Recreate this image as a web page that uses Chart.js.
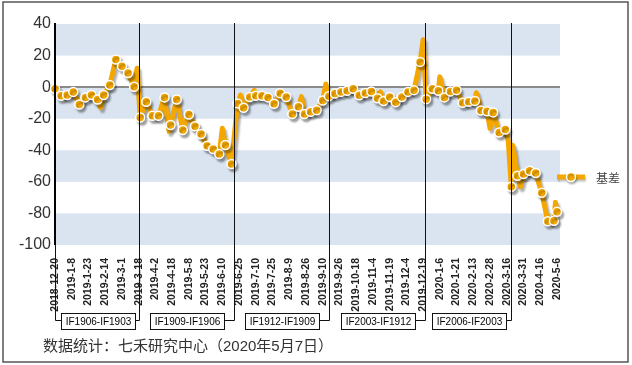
<!DOCTYPE html>
<html>
<head>
<meta charset="utf-8">
<script src="https://cdn.jsdelivr.net/npm/chart.js@4.4.1/dist/chart.umd.min.js"></script>
<style>
  body { margin: 0; background: #fff; }
  canvas { display: block; }
</style>
</head>
<body>
<canvas id="basisChart" width="632" height="365"></canvas>
<script>
// x tick labels, one every 11 trading days
const tickDates = ['2018-12-20', '2019-1-8', '2019-1-23', '2019-2-14', '2019-3-1', '2019-3-18',
  '2019-4-2', '2019-4-18', '2019-5-8', '2019-5-23', '2019-6-10', '2019-6-25', '2019-7-10',
  '2019-7-25', '2019-8-9', '2019-8-26', '2019-9-10', '2019-9-26', '2019-10-18', '2019-11-4',
  '2019-11-19', '2019-12-4', '2019-12-19', '2020-1-6', '2020-1-21', '2020-2-13', '2020-2-28',
  '2020-3-16', '2020-3-31', '2020-4-16', '2020-5-6'];

// trading day counted from 2018-12-20, and the basis read on that day
const tradingDay = [0, 4, 8, 12, 16, 20, 24, 28, 30, 32, 36, 40, 44, 48, 52, 54, 56,
  60, 64, 68, 72, 75, 76, 80, 84, 88, 92, 96, 100, 104, 108, 110, 112, 116,
  120, 122, 124, 128, 131, 132, 136, 140, 144, 148, 152, 156, 160, 162, 164, 168, 172, 176, 178,
  180, 184, 188, 192, 196, 200, 204, 208, 212, 214, 216, 220, 224, 228, 232, 236, 240, 242, 244,
  248, 252, 253, 256, 260, 264, 268, 272, 276, 277, 280, 284, 286, 288, 292, 296, 298,
  300, 301, 304, 306, 308, 312, 316, 320, 324, 328, 329, 330];
const basis = [-1, -5.5, -5, -3, -11, -6.5, -5, -7.8, -13, -5, 1.3, 17.5, 13.3, 9, 0.2, 12, -19.2,
  -9.3, -18.2, -18.2, -6.5, -28, -24, -7.8, -27.2, -17.3, -24.7, -29.7, -37.1, -39.2, -42.4, -26, -36.7, -48.7,
  -10.3, -5, -13, -6.3, -2, -5.5, -5.5, -6.5, -10.5, -3.8, -6.2, -17, -12.4, -6, -17, -15.6, -14.6, -8.5, 2,
  -5.7, -4, -3, -2.3, -1, -5.2, -3.7, -2.8, -7, -3, -8.8, -6.3, -9.5, -6.3, -3, -1.9, 16, 30, -7.6,
  -1, -2.3, 6.5, -6.5, -2.7, -1.9, -9.9, -9.2, -8.7, -3.5, -14.8, -15.3, -26, -16, -28.8, -26.8, -34,
  -63.1, -37, -56.1, -63, -55, -53, -54.4, -66.9, -85, -84.7, -73, -79];

// contract roll days and the spread that was in force before each roll
const rollDays = [55, 118, 180, 243, 300];
const contracts = ['IF1906-IF1903', 'IF1909-IF1906', 'IF1912-IF1909', 'IF2003-IF1912', 'IF2006-IF2003'];
const sourceNote = '数据统计：七禾研究中心（2020年5月7日）';

const ORANGE = '#f3a700';
const points = tradingDay.map((d, i) => ({ x: d, y: basis[i] }));

// white page, outer frame and the blue bands behind the plot
const bandsPlugin = {
  id: 'bands',
  beforeDraw(chart) {
    const { ctx, chartArea: a, scales: { y } } = chart;
    ctx.save();
    ctx.fillStyle = '#fff';
    ctx.fillRect(0, 0, chart.width, chart.height);
    ctx.strokeStyle = '#555';
    ctx.lineWidth = 1.5;
    ctx.strokeRect(3, 2, 625, 360);
    const vals = y.ticks.map(t => t.value).sort((p, q) => q - p);
    ctx.fillStyle = '#dae4f0';
    for (let i = 0; i < vals.length - 1; i += 2) {
      const top = y.getPixelForValue(vals[i]);
      const bot = y.getPixelForValue(vals[i + 1]);
      ctx.fillRect(a.left, top, a.right - a.left, bot - top);
    }
    ctx.restore();
  }
};

// grey drop shadow under the line and its markers
const shadowPlugin = {
  id: 'shadow',
  beforeDatasetsDraw(chart) {
    const c = chart.ctx;
    c.save();
    c.shadowColor = 'rgba(0,0,0,0.3)';
    c.shadowOffsetX = 2;
    c.shadowOffsetY = 3;
    c.shadowBlur = 2;
  },
  afterDatasetsDraw(chart) {
    chart.ctx.restore();
  }
};

// roll lines, contract boxes, legend and source note
const notesPlugin = {
  id: 'notes',
  afterDraw(chart) {
    const { ctx, chartArea: a, scales: { x } } = chart;
    const edges = [0, ...rollDays].map(d => Math.round(x.getPixelForValue(d)));
    const linkY = 320.5, boxH = 16;
    ctx.save();

    ctx.strokeStyle = '#000';
    ctx.lineWidth = 2;
    ctx.beginPath();
    ctx.moveTo(edges[0], a.top - 1);
    ctx.lineTo(edges[0], a.bottom);
    ctx.stroke();

    ctx.lineWidth = 1;
    ctx.strokeStyle = '#111';
    ctx.font = '10px "Liberation Sans", Arial, sans-serif';
    ctx.textAlign = 'center';
    ctx.textBaseline = 'middle';
    contracts.forEach((name, i) => {
      const L = edges[i] + 0.5, R = edges[i + 1] + 0.5;
      const w = Math.round(ctx.measureText(name).width) + 8;
      const bx = Math.round((L + R) / 2 - w / 2) + 0.5;
      const by = Math.round(linkY - boxH / 2) + 0.5;
      ctx.beginPath();
      ctx.moveTo(R, a.top - 1);
      ctx.lineTo(R, linkY);
      ctx.lineTo(bx + w, linkY);
      if (i === 0) {
        ctx.moveTo(L, a.bottom);
        ctx.lineTo(L, linkY);
        ctx.lineTo(bx, linkY);
      }
      ctx.stroke();
      ctx.fillStyle = '#fff';
      ctx.fillRect(bx, by, w, boxH);
      ctx.strokeRect(bx, by, w, boxH);
      ctx.fillStyle = '#000';
      ctx.fillText(name, bx + w / 2, by + boxH / 2 + 0.5);
    });

    // legend
    const lx = a.right - 3, ly = 177;
    ctx.shadowColor = 'rgba(0,0,0,0.25)';
    ctx.shadowOffsetX = 1;
    ctx.shadowOffsetY = 2;
    ctx.shadowBlur = 2;
    ctx.strokeStyle = ORANGE;
    ctx.lineWidth = 5;
    ctx.beginPath();
    ctx.moveTo(lx, ly);
    ctx.lineTo(lx + 28, ly);
    ctx.stroke();
    ctx.beginPath();
    ctx.arc(lx + 14, ly, 4.5, 0, Math.PI * 2);
    ctx.fillStyle = ORANGE;
    ctx.fill();
    ctx.lineWidth = 1.5;
    ctx.strokeStyle = '#fff';
    ctx.stroke();
    ctx.shadowColor = 'transparent';
    ctx.fillStyle = '#444';
    ctx.font = '12px "Noto Sans CJK SC", sans-serif';
    ctx.textAlign = 'left';
    ctx.fillText(chart.data.datasets[0].label, lx + 39, ly + 1);

    ctx.fillStyle = '#333';
    ctx.font = '15px "Liberation Sans", "Noto Sans CJK SC", sans-serif';
    ctx.fillText(sourceNote, 43, 347);
    ctx.restore();
  }
};

new Chart(document.getElementById('basisChart'), {
  type: 'line',
  data: {
    datasets: [{
      label: '基差',
      data: points,
      borderColor: ORANGE,
      borderWidth: 5,
      borderJoinStyle: 'round',
      tension: 0,
      clip: 8,
      pointRadius: ctx => (tradingDay[ctx.dataIndex] % 4 === 0 || ctx.dataIndex === tradingDay.length - 1) ? 4.5 : 0,
      pointBackgroundColor: ORANGE,
      pointBorderColor: '#fff',
      pointBorderWidth: 1.5
    }]
  },
  options: {
    responsive: false,
    animation: false,
    layout: { padding: { top: 24, right: 72, left: 0, bottom: 0 } },
    plugins: {
      legend: { display: false },
      tooltip: { enabled: false }
    },
    scales: {
      x: {
        type: 'linear',
        min: 0,
        max: 332,
        afterBuildTicks: scale => {
          scale.ticks = tickDates.map((_, i) => ({ value: i * 11 }));
        },
        afterFit: scale => { scale.height = 120; },
        grid: { display: false },
        border: { display: false },
        ticks: {
          autoSkip: false,
          maxRotation: 90,
          minRotation: 90,
          padding: 5,
          color: '#222',
          font: { family: 'Liberation Sans', size: 10.5, weight: 'bold' },
          callback: (value, index) => tickDates[index]
        }
      },
      y: {
        min: -100,
        max: 40,
        afterFit: scale => { scale.width = 55; },
        grid: {
          drawTicks: false,
          lineWidth: 2,
          color: ctx => (ctx.tick && ctx.tick.value === 0) ? '#8a8a8a' : 'rgba(0,0,0,0)'
        },
        border: { display: false },
        ticks: {
          stepSize: 20,
          padding: 4,
          color: '#333',
          font: { family: 'Liberation Sans', size: 16 }
        }
      }
    }
  },
  plugins: [bandsPlugin, shadowPlugin, notesPlugin]
});
</script>
</body>
</html>
